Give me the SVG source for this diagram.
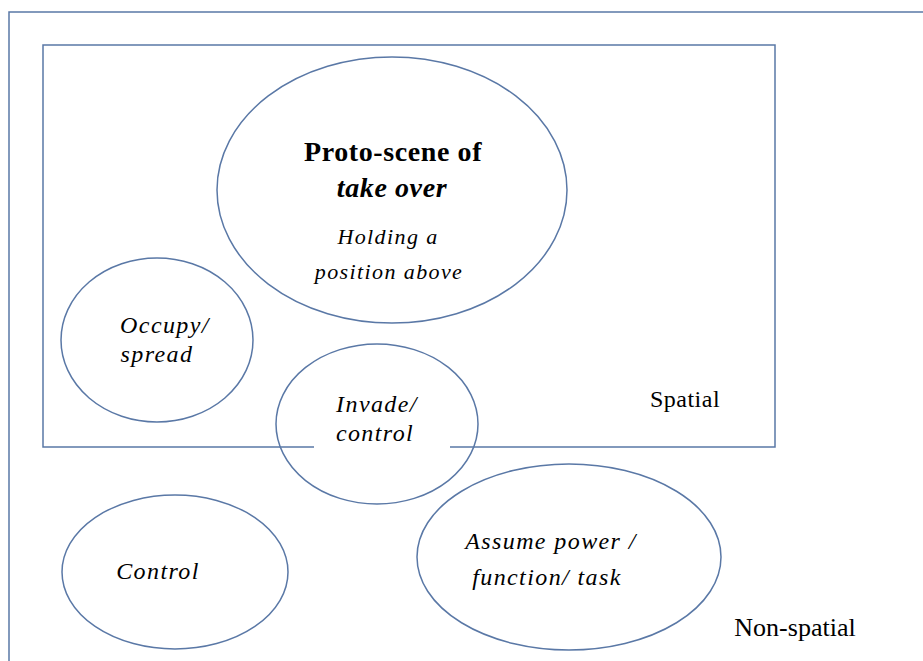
<svg xmlns="http://www.w3.org/2000/svg" width="923" height="661" viewBox="0 0 923 661">
<style>
.sh{fill:none;stroke:#5a78a6;stroke-width:1.5}
.t{font-family:"Liberation Serif","DejaVu Serif",serif;fill:#000;text-anchor:middle}
.i{font-style:italic;font-size:24px;letter-spacing:1.4px}
.b{font-size:28px;font-weight:bold;letter-spacing:0.6px}
</style>
<rect width="923" height="661" fill="#fff"/>
<g id="outer-frame"><path class="sh" d="M9,672 V12 H930"/></g>
<g id="spatial-box">
<path class="sh" d="M314,447 H43 V45 H775 V447 H450"/>
<text class="t" x="685" y="407" font-size="24" letter-spacing="0.5">Spatial</text>
</g>
<g id="non-spatial"><text class="t" x="795" y="636" font-size="26">Non-spatial</text></g>
<g id="proto">
<ellipse class="sh" cx="392" cy="190" rx="175" ry="133"/>
<text class="t b" x="393" y="161">Proto-scene of</text>
<text class="t b" x="392" y="197" font-style="italic">take over</text>
<text class="t i" x="388" y="244" style="font-size:22px">Holding a</text>
<text class="t i" x="389" y="279" style="font-size:22px">position above</text>
</g>
<g id="occupy">
<ellipse class="sh" cx="157" cy="340" rx="96" ry="82"/>
<text class="t i" x="165" y="333">Occupy/</text>
<text class="t i" x="157" y="362">spread</text>
</g>
<g id="invade">
<ellipse class="sh" cx="377" cy="424" rx="101" ry="80"/>
<text class="t i" x="377" y="412">Invade/</text>
<text class="t i" x="375" y="441">control</text>
</g>
<g id="control">
<ellipse class="sh" cx="175" cy="572" rx="113" ry="77"/>
<text class="t i" x="158" y="579">Control</text>
</g>
<g id="assume">
<ellipse class="sh" cx="569" cy="557" rx="152" ry="93"/>
<text class="t i" x="551" y="549">Assume power /</text>
<text class="t i" x="547" y="585">function/ task</text>
</g>
<g id="connectors"></g>
</svg>
